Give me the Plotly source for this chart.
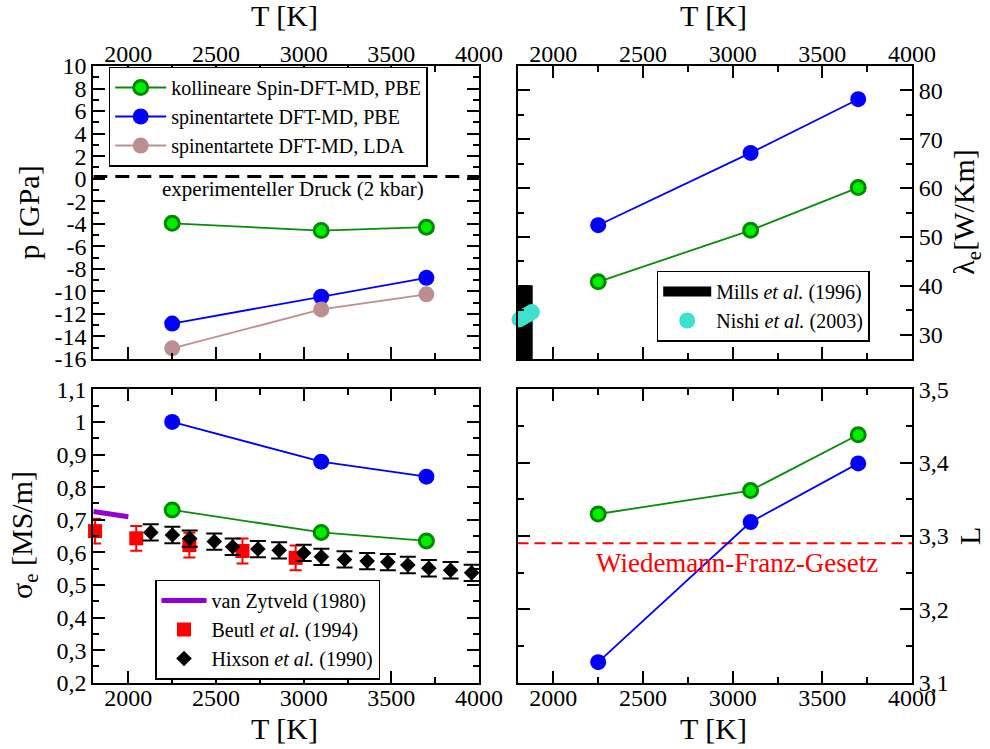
import plotly.graph_objects as go

W, H = 990, 749
FONT = "Liberation Serif"

# ---------------- data ----------------
T_sim = [2250, 3100, 3700]

p_coll_pbe = [-3.96, -4.6, -4.3]
p_deg_pbe = [-12.86, -10.47, -8.8]
p_deg_lda = [-15.05, -11.6, -10.26]
p_exp = 0.2  # GPa (2 kbar)

lam_coll_pbe = [40.8, 51.35, 60.1]
lam_deg_pbe = [52.4, 67.2, 78.2]
mills_T = [1843, 1843]
mills_lam = [25, 40.1]
nishi_T = [1811, 1828, 1846, 1863, 1880]
nishi_lam = [33.1, 33.5, 33.9, 34.2, 34.6]

sig_coll_pbe = [0.730, 0.661, 0.635]
sig_deg_pbe = [1.000, 0.878, 0.832]
zyt_T = [1800, 2000]
zyt_sig = [0.725, 0.709]
beutl_T = [1810, 2045, 2348, 2651, 2954]
beutl_sig = [0.665, 0.643, 0.622, 0.604, 0.583]
beutl_err = [0.038, 0.038, 0.038, 0.038, 0.038]
hix_T = [2128, 2251, 2350, 2490, 2595, 2739, 2860, 3000, 3101, 3233, 3362, 3480, 3594, 3714, 3838, 3958]
hix_sig = [0.661, 0.653, 0.642, 0.633, 0.617, 0.610, 0.606, 0.598, 0.586, 0.578, 0.573, 0.570, 0.561, 0.551, 0.545, 0.537]
hix_err = [0.025] * 16

L_coll_pbe = [3.330, 3.362, 3.438]
L_deg_pbe = [3.128, 3.319, 3.399]
L_wf = 3.29

x_ticks = [2000, 2500, 3000, 3500, 4000]
p_ticks = list(range(-16, 11, 2))
lam_ticks = [30, 40, 50, 60, 70, 80]
sig_ticks = [0.2, 0.3, 0.4, 0.5, 0.6, 0.7, 0.8, 0.9, 1.0, 1.1]
sig_ticktext = ["0,2", "0,3", "0,4", "0,5", "0,6", "0,7", "0,8", "0,9", "1", "1,1"]
L_ticks = [3.1, 3.2, 3.3, 3.4, 3.5]
L_ticktext = ["3,1", "3,2", "3,3", "3,4", "3,5"]

# ---------------- styles ----------------
GREEN_FILL = "#00ee00"
GREEN_EDGE = "#008a00"
GREEN_LINE = "#0a8c0a"
BLUE = "#0000ff"
LDA = "#bc8f8f"

def px_x(a, b):
    return [a / W, b / W]

def px_y(top, bottom):
    return [1 - bottom / H, 1 - top / H]

XL = px_x(93.3, 479.0)
XR = px_x(517.5, 912.0)
YT = px_y(66.0, 359.0)
YB = px_y(389.3, 682.7)

fig = go.Figure()

def coll(x, y, xa, ya, show=False):
    return go.Scatter(x=x, y=y, xaxis=xa, yaxis=ya, mode="lines+markers",
                      name="kollineare Spin-DFT-MD, PBE", showlegend=show, legend="legend",
                      line=dict(color=GREEN_LINE, width=1.8),
                      marker=dict(size=14, color=GREEN_FILL, line=dict(color=GREEN_EDGE, width=3)))

def deg(x, y, xa, ya, show=False):
    return go.Scatter(x=x, y=y, xaxis=xa, yaxis=ya, mode="lines+markers",
                      name="spinentartete DFT-MD, PBE", showlegend=show, legend="legend",
                      line=dict(color=BLUE, width=1.8),
                      marker=dict(size=16, color=BLUE))

# top-left: pressure
fig.add_trace(go.Scatter(x=[1800, 4000], y=[p_exp, p_exp], xaxis="x", yaxis="y", mode="lines",
                         showlegend=False, line=dict(color="black", width=3, dash="14px,8px")))
fig.add_trace(coll(T_sim, p_coll_pbe, "x", "y", True))
fig.add_trace(deg(T_sim, p_deg_pbe, "x", "y", True))
fig.add_trace(go.Scatter(x=T_sim, y=p_deg_lda, xaxis="x", yaxis="y", mode="lines+markers",
                         name="spinentartete DFT-MD, LDA", legend="legend",
                         line=dict(color=LDA, width=1.8), marker=dict(size=16, color=LDA)))

# top-right: thermal conductivity
fig.add_trace(go.Scatter(x=mills_T, y=mills_lam, xaxis="x2", yaxis="y2", mode="lines",
                         name="Mills <i>et al.</i> (1996)", legend="legend3",
                         line=dict(color="black", width=15)))
fig.add_trace(go.Scatter(x=nishi_T, y=nishi_lam, xaxis="x2", yaxis="y2", mode="markers",
                         name="Nishi <i>et al.</i> (2003)", legend="legend3", cliponaxis=False,
                         marker=dict(size=16, color="#40e0d0")))
fig.add_trace(deg(T_sim, lam_deg_pbe, "x2", "y2"))
fig.add_trace(coll(T_sim, lam_coll_pbe, "x2", "y2"))

# bottom-left: electrical conductivity
fig.add_trace(go.Scatter(x=zyt_T, y=zyt_sig, xaxis="x3", yaxis="y3", mode="lines",
                         name="van Zytveld (1980)", legend="legend2",
                         line=dict(color="#9400d3", width=5)))
fig.add_trace(go.Scatter(x=beutl_T, y=beutl_sig, xaxis="x3", yaxis="y3", mode="markers",
                         name="Beutl <i>et al.</i> (1994)", legend="legend2", cliponaxis=False,
                         error_y=dict(type="data", array=beutl_err, color="red", thickness=2, width=6),
                         marker=dict(symbol="square", size=14, color="red")))
fig.add_trace(go.Scatter(x=hix_T, y=hix_sig, xaxis="x3", yaxis="y3", mode="markers",
                         name="Hixson <i>et al.</i> (1990)", legend="legend2", cliponaxis=False,
                         error_y=dict(type="data", array=hix_err, color="black", thickness=2, width=8),
                         marker=dict(symbol="diamond", size=12, color="black")))
fig.add_trace(deg(T_sim, sig_deg_pbe, "x3", "y3"))
fig.add_trace(coll(T_sim, sig_coll_pbe, "x3", "y3"))

# bottom-right: Lorenz number
fig.add_trace(go.Scatter(x=[1800, 4000], y=[L_wf, L_wf], xaxis="x4", yaxis="y4", mode="lines",
                         showlegend=False, line=dict(color="red", width=2, dash="11px,6px")))
fig.add_trace(coll(T_sim, L_coll_pbe, "x4", "y4"))
fig.add_trace(deg(T_sim, L_deg_pbe, "x4", "y4"))

TICKFONT = dict(family=FONT, size=24, color="black")

def xaxis(domain, anchor, side, standoff):
    return dict(domain=domain, anchor=anchor, side=side, range=[1800, 4000],
                tickvals=x_ticks, showticklabels=True, tickfont=TICKFONT,
                ticks="inside", ticklen=12, tickwidth=1.5, tickcolor="black",
                minor=dict(ticks="inside", dtick=250, tick0=2000, ticklen=6, tickwidth=1.5,
                           tickcolor="black", showgrid=False),
                showline=True, linecolor="black", linewidth=2, mirror="ticks",
                showgrid=False, zeroline=False, automargin=False, ticklabelstandoff=standoff)

def yaxis(domain, anchor, side, rng, tv, tt, minor_dtick, minor_tick0):
    return dict(domain=domain, anchor=anchor, side=side, range=rng,
                tickvals=tv, ticktext=tt, tickfont=TICKFONT,
                ticks="inside", ticklen=12, tickwidth=1.5, tickcolor="black",
                minor=dict(ticks="inside", dtick=minor_dtick, tick0=minor_tick0, ticklen=6,
                           tickwidth=1.5, tickcolor="black", showgrid=False),
                showline=True, linecolor="black", linewidth=2, mirror="ticks",
                showgrid=False, zeroline=False, automargin=False, ticklabelstandoff=0)

LEGFONT = dict(family=FONT, size=20, color="black")

fig.update_layout(
    width=W, height=H,
    margin=dict(l=0, r=0, t=0, b=0),
    paper_bgcolor="white", plot_bgcolor="white",
    font=dict(family=FONT, color="black"),
    xaxis=xaxis(XL, "y", "top", -8),
    yaxis=yaxis(YT, "x", "left", [-16, 10], p_ticks, [str(v) for v in p_ticks], 1, 0),
    xaxis2=xaxis(XR, "y2", "top", -8),
    yaxis2=yaxis(YT, "x2", "right", [25, 85], lam_ticks, [str(v) for v in lam_ticks], 5, 0),
    xaxis3=xaxis(XL, "y3", "bottom", -8),
    yaxis3=yaxis(YB, "x3", "left", [0.2, 1.1], sig_ticks, sig_ticktext, 0.05, 0),
    xaxis4=xaxis(XR, "y4", "bottom", -8),
    yaxis4=yaxis(YB, "x4", "right", [3.1, 3.5], L_ticks, L_ticktext, 0.05, 0),
    legend=dict(x=108.7 / W, y=1 - 66.5 / H, xanchor="left", yanchor="top",
                bordercolor="black", borderwidth=1.5, bgcolor="white", font=LEGFONT,
                tracegroupgap=0, itemwidth=51),
    legend2=dict(x=155 / W, y=1 - 579.5 / H, xanchor="left", yanchor="top",
                 bordercolor="black", borderwidth=1.5, bgcolor="white", font=LEGFONT,
                 itemwidth=45),
    legend3=dict(x=656.7 / W, y=1 - 270.5 / H, xanchor="left", yanchor="top",
                 bordercolor="black", borderwidth=1.5, bgcolor="white", font=LEGFONT,
                 itemwidth=48),
)

TITLEFONT = dict(family=FONT, size=30, color="black")
ann = [
    dict(text="T [K]", x=284 / W, y=1 - 15 / H),
    dict(text="T [K]", x=713 / W, y=1 - 15 / H),
    dict(text="T [K]", x=284 / W, y=1 - 728 / H),
    dict(text="T [K]", x=713 / W, y=1 - 728 / H),
    dict(text="p [GPa]", x=28 / W, y=1 - 212.5 / H, textangle=-90),
    dict(text="σ<sub>e</sub> [MS/m]", x=24 / W, y=1 - 535 / H, textangle=-90),
    dict(text="λ<sub>e</sub>[W/Km]", x=966 / W, y=1 - 211.7 / H, textangle=-90),
    dict(text="L", x=969 / W, y=1 - 536 / H, textangle=-90),
]
for a in ann:
    fig.add_annotation(xref="paper", yref="paper", showarrow=False, xanchor="center",
                       yanchor="middle", font=TITLEFONT, **a)

fig.add_annotation(x=2938, y=-0.9, xref="x", yref="y", showarrow=False,
                   text="experimenteller Druck (2 kbar)",
                   font=dict(family=FONT, size=21, color="black"))
fig.add_annotation(x=3023, y=3.263, xref="x4", yref="y4", showarrow=False,
                   text="Wiedemann-Franz-Gesetz",
                   font=dict(family=FONT, size=27, color="red"))

fig.write_html("out.html", config={"displayModeBar": False},
               post_script="document.body.style.margin='0';document.body.style.overflow='hidden';")
